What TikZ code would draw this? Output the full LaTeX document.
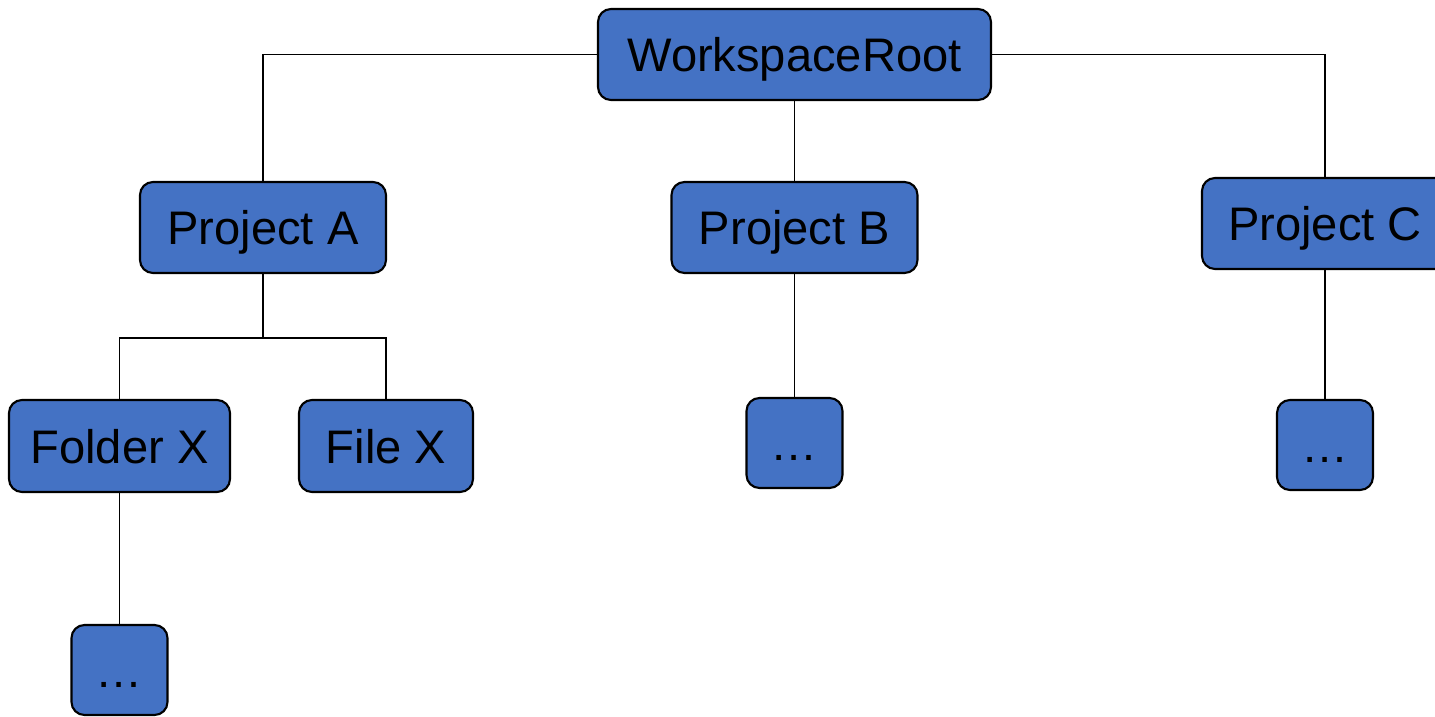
\documentclass[tikz,border=0pt]{standalone}
\usepackage{fontspec}
\setmainfont{Liberation Sans}
\usetikzlibrary{positioning}
\usetikzlibrary{calc}
\definecolor{nodeblue}{HTML}{4472C4}
\tikzset{item/.style={draw, line width=0.6pt, fill=nodeblue, rounded corners=0.13cm, inner sep=0pt, minimum height=0.91cm, text height=0.34cm, text depth=0cm, font=\fontsize{13.4}{16}\selectfont}}
\tikzset{link/.style={line width=0.55pt}}

\begin{document}
\begin{tikzpicture}
\useasboundingbox (0,0) rectangle (14.35,-7.16);
\begin{scope}[on grid]
\node[item, minimum width=3.93cm] (root) at (7.945, -0.545) {WorkspaceRoot};

\node[item, minimum width=2.46cm] (projA) at (2.63, -2.275) {Project A};
\node[item, minimum width=2.46cm] (projB) [below = 1.73 of root] {Project B};
\node[item, minimum width=2.46cm] (projC) at (13.25, -2.235) {Project C};

\node[item, minimum width=2.21cm, minimum height=0.92cm] (folderX) at (1.195, -4.46) {Folder X};
\node[item, minimum width=1.74cm, minimum height=0.92cm] (fileX) at (3.86, -4.46) {File X};
\node[item, minimum width=0.96cm, minimum height=0.90cm] (moreB) [below = 2.155 of projB] {…};
\node[item, minimum width=0.96cm, minimum height=0.90cm] (moreC) [below = 2.215 of projC] {…};
\node[item, minimum width=0.96cm, minimum height=0.90cm] (moreX) [below = 2.24 of folderX] {…};

\coordinate (split) at ($(projA.south) + (0, -0.64)$);

\draw[link] (root.west) -| (projA.north);
\draw[link] (root) -- (projB);
\draw[link] (root.east) -| (projC.north);

\draw[link] (projA.south) -- (split);
\draw[link] (folderX.north) |- (split) -| (fileX.north);

\draw[link] (folderX) -- (moreX);
\draw[link] (projB) -- (moreB);
\draw[link] (projC) -- (moreC);
\end{scope}
\end{tikzpicture}
\end{document}
